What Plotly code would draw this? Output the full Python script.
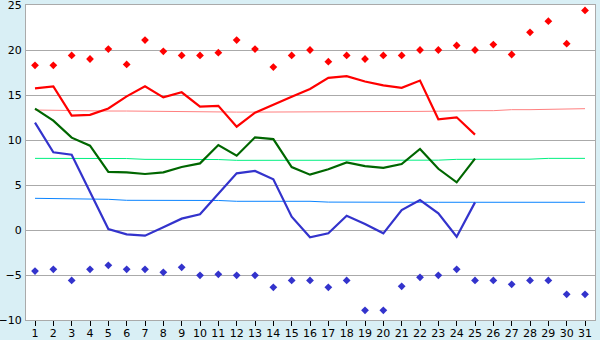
import plotly.graph_objects as go

days = list(range(1, 32))
days_obs = list(range(1, 26))

record_max = [18.3, 18.3, 19.4, 19.0, 20.1, 18.4, 21.1, 19.85, 19.4, 19.4, 19.7, 21.1, 20.1, 18.1, 19.4,
              20.0, 18.7, 19.4, 19.0, 19.4, 19.4, 20.0, 20.0, 20.5, 20.0, 20.6, 19.5, 21.96, 23.2, 20.7, 24.4]
record_min = [-4.56, -4.37, -5.6, -4.37, -3.93, -4.37, -4.37, -4.7, -4.15, -5.04, -4.93, -5.04, -5.04, -6.37, -5.6,
              -5.6, -6.37, -5.6, -8.93, -8.93, -6.26, -5.26, -5.04, -4.37, -5.6, -5.6, -6.04, -5.6, -5.6, -7.15, -7.15]

tmax = [15.74, 15.96, 12.7, 12.8, 13.5, 14.85, 15.96, 14.74, 15.3, 13.7, 13.8, 11.48, 13.03, 13.96, 14.8,
        15.67, 16.9, 17.1, 16.5, 16.07, 15.8, 16.6, 12.3, 12.52, 10.6]
tmean = [13.48, 12.15, 10.26, 9.37, 6.45, 6.4, 6.22, 6.4, 7.0, 7.4, 9.44, 8.26, 10.3, 10.1, 7.0,
         6.15, 6.75, 7.5, 7.1, 6.9, 7.33, 9.0, 6.8, 5.3, 7.93]
tmin = [11.93, 8.63, 8.37, 4.2, 0.1, -0.48, -0.63, 0.3, 1.26, 1.74, 4.0, 6.3, 6.56, 5.63, 1.48,
        -0.81, -0.37, 1.59, 0.67, -0.37, 2.22, 3.33, 1.85, -0.74, 3.07]

norm_max = [13.33, 13.3, 13.22, 13.22, 13.22, 13.22, 13.2, 13.1, 13.1, 13.1, 13.1, 13.1, 13.1, 13.1, 13.1,
            13.1, 13.1, 13.1, 13.12, 13.18, 13.18, 13.18, 13.2, 13.26, 13.26, 13.26, 13.37, 13.37, 13.4, 13.48, 13.48]
norm_mean = [7.96, 7.96, 7.96, 7.96, 7.96, 7.94, 7.85, 7.85, 7.85, 7.85, 7.83, 7.74, 7.74, 7.74, 7.74,
             7.74, 7.74, 7.74, 7.74, 7.74, 7.74, 7.74, 7.76, 7.85, 7.85, 7.85, 7.85, 7.87, 7.96, 7.96, 7.96]
norm_min = [3.52, 3.5, 3.41, 3.41, 3.41, 3.3, 3.3, 3.3, 3.3, 3.3, 3.28, 3.19, 3.19, 3.19, 3.19,
            3.19, 3.1, 3.08, 3.08, 3.08, 3.08, 3.08, 3.08, 3.08, 3.08, 3.08, 3.08, 3.08, 3.08, 3.08, 3.08]

yticks = [-10, -5, 0, 5, 10, 15, 20, 25]
ytick_text = ["\u221210", "\u22125", "0", "5", "10", "15", "20", "25"]

fig = go.Figure()

fig.add_trace(go.Scatter(x=days, y=norm_max, mode="lines", line=dict(color="#ff8080", width=1)))
fig.add_trace(go.Scatter(x=days, y=norm_mean, mode="lines", line=dict(color="#00f080", width=1)))
fig.add_trace(go.Scatter(x=days, y=norm_min, mode="lines", line=dict(color="#0a84ff", width=1)))

fig.add_trace(go.Scatter(x=days_obs, y=tmax, mode="lines", line=dict(color="#ff0000", width=2.2)))
fig.add_trace(go.Scatter(x=days_obs, y=tmean, mode="lines", line=dict(color="#006600", width=2.2)))
fig.add_trace(go.Scatter(x=days_obs, y=tmin, mode="lines", line=dict(color="#3333cc", width=2.2)))

fig.add_trace(go.Scatter(x=days, y=record_max, mode="markers",
                         marker=dict(symbol="diamond", size=6, color="#ff0000")))
fig.add_trace(go.Scatter(x=days, y=record_min, mode="markers",
                         marker=dict(symbol="diamond", size=6, color="#3333cc")))

fig.update_layout(
    width=600, height=340,
    margin=dict(l=26, r=5, t=5, b=20),
    paper_bgcolor="#d9eff5",
    plot_bgcolor="#ffffff",
    showlegend=False,
    font=dict(family="DejaVu Sans", size=11, color="#000000"),
)
fig.update_xaxes(
    range=[0.509, 31.545], tickmode="array", tickvals=days, ticktext=[str(d) for d in days],
    showgrid=False, zeroline=False, showline=True, linecolor="#aaaaaa", linewidth=1, mirror=True,
    ticks="outside", ticklen=5, tickcolor="#000000", tickwidth=1, automargin=False,
    ticklabelstandoff=-2, tickfont=dict(size=11),
)
fig.update_yaxes(
    range=[-10, 25], tickmode="array", tickvals=yticks, ticktext=ytick_text,
    showgrid=True, gridcolor="#aaaaaa", gridwidth=1, zeroline=False,
    showline=True, linecolor="#aaaaaa", linewidth=1, mirror=True, ticks="", ticklabelstandoff=1,
    ticklabeloverflow="allow", automargin=False,
)

fig.write_html("out.html")
